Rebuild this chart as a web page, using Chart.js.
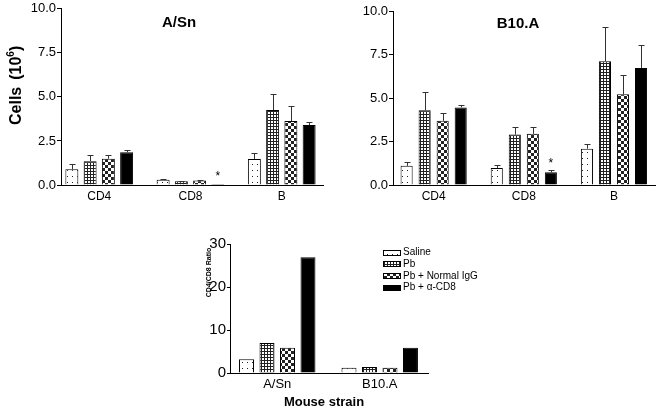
<!DOCTYPE html>
<html>
<head>
<meta charset="utf-8">
<script src="https://cdn.jsdelivr.net/npm/chart.js"></script>
<style>
  body { margin: 0; background: #fff; }
  #wrap { position: relative; width: 656px; height: 413px; overflow: hidden; }
  canvas { position: absolute; }
  #cellsA { left: 0; top: 0; }
  #cellsB { left: 330px; top: 0; }
  #ratio { left: 0; top: 210px; }
</style>
</head>
<body>
<div id="wrap">
  <canvas id="cellsA" width="330" height="210"></canvas>
  <canvas id="cellsB" width="326" height="210"></canvas>
  <canvas id="ratio" width="656" height="203"></canvas>
</div>
<script>
const FONT = "'Liberation Sans', Arial, Helvetica, sans-serif";

const cellTypes = ['CD4', 'CD8', 'B'];
const strains = ['A/Sn', 'B10.A'];
const treatments = ['Saline', 'Pb', 'Pb + Normal IgG', 'Pb + α-CD8'];
const cellTicks = [0, 2.5, 5, 7.5, 10];
const ratioTicks = [0, 10, 20, 30];

// A/Sn, cells (10^6): mean per cell type, then upper error
const asnSaline = [0.89, 0.30, 1.48];
const asnPb = [1.35, 0.21, 4.25];
const asnIgG = [1.49, 0.26, 3.63];
const asnAntiCD8 = [1.86, 0.05, 3.40];
const asnSalineErr = [0.30, 0.03, 0.34];
const asnPbErr = [0.33, 0.03, 0.94];
const asnIgGErr = [0.19, 0.04, 0.88];
const asnAntiCD8Err = [0.12, 0, 0.20];

// B10.A, cells (10^6)
const b10Saline = [1.10, 0.98, 2.09];
const b10Pb = [4.29, 2.90, 7.11];
const b10IgG = [3.69, 2.94, 5.21];
const b10AntiCD8 = [4.46, 0.73, 6.73];
const b10SalineErr = [0.23, 0.15, 0.29];
const b10PbErr = [1.05, 0.45, 1.95];
const b10IgGErr = [0.46, 0.37, 1.11];
const b10AntiCD8Err = [0.12, 0.11, 1.29];

// CD4/CD8 ratio per strain
const ratioSaline = [3.2, 1.25];
const ratioPb = [7.0, 1.4];
const ratioIgG = [5.9, 1.25];
const ratioAntiCD8 = [26.9, 5.9];

// significant bars: [treatment index, cell type index]
const asnStars = [[3, 1]];
const b10Stars = [[3, 1]];

function makePatterns(ctx) {
    function tile(w, h, draw) {
        const c = document.createElement('canvas');
        c.width = w;
        c.height = h;
        const g = c.getContext('2d');
        g.fillStyle = '#fff';
        g.fillRect(0, 0, w, h);
        g.fillStyle = '#222';
        draw(g);
        return ctx.createPattern(c, 'repeat');
    }
    return [
        tile(5, 6, g => g.fillRect(2, 2, 1, 1)),
        tile(3, 3, g => { g.fillRect(0, 0, 3, 1); g.fillRect(0, 0, 1, 3); }),
        tile(6, 6, g => { g.fillRect(0, 0, 3, 3); g.fillRect(3, 3, 3, 3); }),
        '#000'
    ];
}

// upper error bars, drawn from each bar top
const errorBars = {
    id: 'errorBars',
    afterDatasetsDraw(chart) {
        const ctx = chart.ctx;
        const y = chart.scales.y;
        ctx.save();
        ctx.strokeStyle = '#333';
        ctx.lineWidth = 1;
        chart.data.datasets.forEach((ds, i) => {
            if (!ds.errors) return;
            chart.getDatasetMeta(i).data.forEach((bar, j) => {
                const err = ds.errors[j];
                if (!err) return;
                const x = Math.round(bar.x) + 0.5;
                const top = Math.round(y.getPixelForValue(ds.data[j].y + err)) + 0.5;
                ctx.beginPath();
                ctx.moveTo(x, bar.y);
                ctx.lineTo(x, top);
                ctx.moveTo(x - 3, top);
                ctx.lineTo(x + 3, top);
                ctx.stroke();
            });
        });
        ctx.restore();
    }
};

function buildDatasets(ctx, series, errors) {
    const fills = makePatterns(ctx);
    return series.map((values, i) => ({
        label: treatments[i],
        data: values.map((v, j) => ({ x: j, y: v })),
        errors: errors ? errors[i] : null,
        backgroundColor: fills[i],
        borderColor: '#000',
        borderWidth: 1
    }));
}

function cellChart(id, title, series, errors, stars, cfg) {
    const canvas = document.getElementById(id);
    const ctx = canvas.getContext('2d');

    const notes = {
        id: 'notes',
        afterDraw(chart) {
            const c = chart.ctx;
            const y = chart.scales.y;
            c.save();
            c.fillStyle = '#000';
            c.textAlign = 'center';
            c.textBaseline = 'middle';
            c.font = 'bold 15px ' + FONT;
            c.fillText(title, cfg.titleX, cfg.titleY);

            // stars over significant bars
            c.font = '12px ' + FONT;
            c.textBaseline = 'bottom';
            stars.forEach(([ds, idx]) => {
                const bar = chart.getDatasetMeta(ds).data[idx];
                const d = chart.data.datasets[ds];
                const top = y.getPixelForValue(d.data[idx].y + (d.errors[idx] || 0));
                c.fillText('*', bar.x, top - 1);
            });

            if (cfg.yTitle) {
                c.translate(17, 125);
                c.rotate(-Math.PI / 2);
                c.textAlign = 'left';
                c.textBaseline = 'middle';
                c.font = 'bold 16px ' + FONT;
                let x = 0;
                c.fillText('Cells', x, 0);
                x += c.measureText('Cells').width + 7;
                c.fillText('(10', x, 0);
                x += c.measureText('(10').width;
                c.font = 'bold 10px ' + FONT;
                c.fillText('6', x, -6);
                x += c.measureText('6').width;
                c.font = 'bold 16px ' + FONT;
                c.fillText(')', x, 0);
            }
            c.restore();
        }
    };

    return new Chart(ctx, {
        type: 'bar',
        data: { datasets: buildDatasets(ctx, series, errors) },
        plugins: [errorBars, notes],
        options: {
            responsive: false,
            animation: false,
            layout: { padding: { top: cfg.top, right: cfg.right, left: 0, bottom: 0 } },
            categoryPercentage: 0.8,
            barPercentage: cfg.barPct,
            plugins: { legend: { display: false }, tooltip: { enabled: false } },
            scales: {
                x: {
                    type: 'linear',
                    offset: false,
                    min: cfg.xMin,
                    max: cfg.xMax,
                    afterBuildTicks: scale => { scale.ticks = cellTypes.map((c, i) => ({ value: i })); },
                    afterFit: scale => { scale.height = 25; },
                    grid: { display: false, drawTicks: false },
                    border: { display: true, color: '#000', width: 1 },
                    ticks: {
                        autoSkip: false,
                        maxRotation: 0,
                        padding: 4,
                        color: '#000',
                        font: { family: FONT, size: 12 },
                        callback: v => cellTypes[v]
                    }
                },
                y: {
                    min: 0,
                    max: 10,
                    afterBuildTicks: scale => { scale.ticks = cellTicks.map(v => ({ value: v })); },
                    afterFit: scale => { scale.width = cfg.yWidth; },
                    grid: { drawOnChartArea: false, drawTicks: true, tickLength: 4, color: '#000' },
                    border: { display: true, color: '#000', width: 1 },
                    ticks: {
                        padding: 1,
                        color: '#000',
                        font: { family: FONT, size: 13 },
                        callback: v => v.toFixed(1)
                    }
                }
            }
        }
    });
}

cellChart('cellsA', 'A/Sn',
    [asnSaline, asnPb, asnIgG, asnAntiCD8],
    [asnSalineErr, asnPbErr, asnIgGErr, asnAntiCD8Err],
    asnStars,
    { top: 8, right: 7, yWidth: 61, xMin: -0.419, xMax: 2.452, barPct: 0.71, titleX: 179, titleY: 23, yTitle: true });

cellChart('cellsB', 'B10.A',
    [b10Saline, b10Pb, b10IgG, b10AntiCD8],
    [b10SalineErr, b10PbErr, b10IgGErr, b10AntiCD8Err],
    b10Stars,
    { top: 11, right: 1, yWidth: 63, xMin: -0.451, xMax: 2.455, barPct: 0.67, titleX: 188, titleY: 24, yTitle: false });

// --- CD4/CD8 ratio chart with its own legend ---
(function () {
    const canvas = document.getElementById('ratio');
    const ctx = canvas.getContext('2d');
    const fills = makePatterns(ctx);

    const ratioNotes = {
        id: 'ratioNotes',
        afterDraw(chart) {
            const c = chart.ctx;
            c.save();
            c.fillStyle = '#000';
            c.textAlign = 'center';
            c.textBaseline = 'middle';
            c.font = 'bold 13px ' + FONT;
            c.fillText('Mouse strain', 324, 192);

            c.save();
            c.translate(209, 62.5);
            c.rotate(-Math.PI / 2);
            c.font = 'bold 7px ' + FONT;
            c.fillText('CD4/CD8 Ratio', 0, 0);
            c.restore();

            // legend
            c.textAlign = 'left';
            c.font = '10px ' + FONT;
            chart.data.datasets.forEach((ds, i) => {
                const rowY = 42.5 + i * 11.7;
                c.fillStyle = fills[i];
                c.fillRect(383, Math.round(rowY) - 3, 17, 6);
                c.strokeStyle = '#000';
                c.lineWidth = 1;
                c.strokeRect(383.5, Math.round(rowY) - 2.5, 17, 5);
                c.fillStyle = '#000';
                c.fillText(ds.label, 403, rowY);
            });
            c.restore();
        }
    };

    new Chart(ctx, {
        type: 'bar',
        data: { datasets: buildDatasets(ctx, [ratioSaline, ratioPb, ratioIgG, ratioAntiCD8], null) },
        plugins: [ratioNotes],
        options: {
            responsive: false,
            animation: false,
            layout: { padding: { top: 34, right: 228, left: 0, bottom: 0 } },
            categoryPercentage: 0.8,
            barPercentage: 0.73,
            plugins: { legend: { display: false }, tooltip: { enabled: false } },
            scales: {
                x: {
                    type: 'linear',
                    offset: false,
                    min: -0.461,
                    max: 1.471,
                    afterBuildTicks: scale => { scale.ticks = strains.map((s, i) => ({ value: i })); },
                    afterFit: scale => { scale.height = 40; },
                    grid: { display: false, drawTicks: false },
                    border: { display: true, color: '#000', width: 1 },
                    ticks: {
                        autoSkip: false,
                        maxRotation: 0,
                        padding: 4,
                        color: '#000',
                        font: { family: FONT, size: 13 },
                        callback: v => strains[v]
                    }
                },
                y: {
                    min: 0,
                    max: 30,
                    afterBuildTicks: scale => { scale.ticks = ratioTicks.map(v => ({ value: v })); },
                    afterFit: scale => { scale.width = 230; },
                    grid: { drawOnChartArea: false, drawTicks: true, tickLength: 3, color: '#000' },
                    border: { display: true, color: '#000', width: 1 },
                    ticks: {
                        padding: 1,
                        color: '#000',
                        font: { family: FONT, size: 15 },
                        callback: v => String(v)
                    }
                }
            }
        }
    });
})();
</script>
</body>
</html>
